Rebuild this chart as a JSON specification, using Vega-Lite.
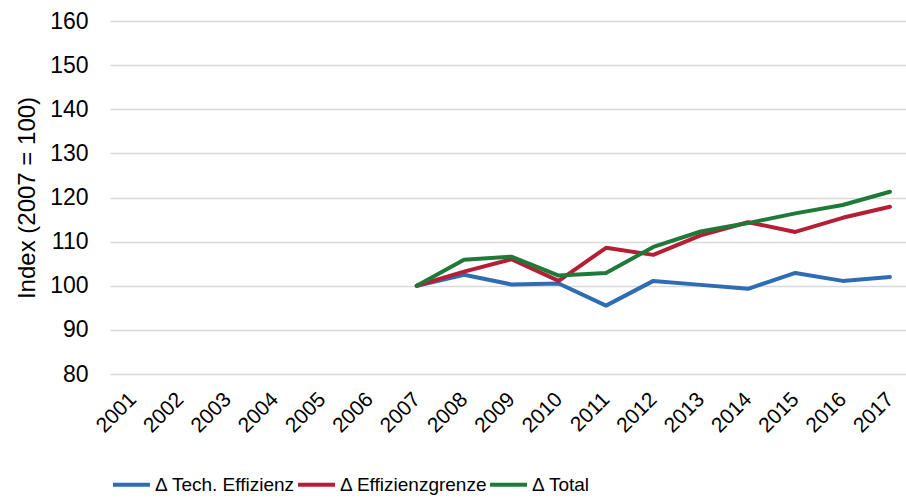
{
  "$schema": "https://vega.github.io/schema/vega-lite/v6.json",
  "width": 796,
  "height": 353,
  "autosize": {"type": "none"},
  "padding": {"left": 110, "top": 21, "right": 0, "bottom": 127},
  "background": "white",
  "config": {
    "view": {"stroke": null},
    "font": "Liberation Sans"
  },
  "data": {
    "values": [
      {"year": "2001", "series": "Δ Tech. Effizienz", "value": null},
      {"year": "2002", "series": "Δ Tech. Effizienz", "value": null},
      {"year": "2003", "series": "Δ Tech. Effizienz", "value": null},
      {"year": "2004", "series": "Δ Tech. Effizienz", "value": null},
      {"year": "2005", "series": "Δ Tech. Effizienz", "value": null},
      {"year": "2006", "series": "Δ Tech. Effizienz", "value": null},
      {"year": "2007", "series": "Δ Tech. Effizienz", "value": 100},
      {"year": "2008", "series": "Δ Tech. Effizienz", "value": 102.5},
      {"year": "2009", "series": "Δ Tech. Effizienz", "value": 100.3},
      {"year": "2010", "series": "Δ Tech. Effizienz", "value": 100.5},
      {"year": "2011", "series": "Δ Tech. Effizienz", "value": 95.5},
      {"year": "2012", "series": "Δ Tech. Effizienz", "value": 101.1},
      {"year": "2013", "series": "Δ Tech. Effizienz", "value": 100.2},
      {"year": "2014", "series": "Δ Tech. Effizienz", "value": 99.3},
      {"year": "2015", "series": "Δ Tech. Effizienz", "value": 102.9},
      {"year": "2016", "series": "Δ Tech. Effizienz", "value": 101.1},
      {"year": "2017", "series": "Δ Tech. Effizienz", "value": 102.0},
      {"year": "2007", "series": "Δ Effizienzgrenze", "value": 100},
      {"year": "2008", "series": "Δ Effizienzgrenze", "value": 103.2},
      {"year": "2009", "series": "Δ Effizienzgrenze", "value": 106.0},
      {"year": "2010", "series": "Δ Effizienzgrenze", "value": 101.1},
      {"year": "2011", "series": "Δ Effizienzgrenze", "value": 108.6},
      {"year": "2012", "series": "Δ Effizienzgrenze", "value": 107.0},
      {"year": "2013", "series": "Δ Effizienzgrenze", "value": 111.4},
      {"year": "2014", "series": "Δ Effizienzgrenze", "value": 114.4},
      {"year": "2015", "series": "Δ Effizienzgrenze", "value": 112.2},
      {"year": "2016", "series": "Δ Effizienzgrenze", "value": 115.4},
      {"year": "2017", "series": "Δ Effizienzgrenze", "value": 117.9},
      {"year": "2007", "series": "Δ Total", "value": 100},
      {"year": "2008", "series": "Δ Total", "value": 105.9},
      {"year": "2009", "series": "Δ Total", "value": 106.6},
      {"year": "2010", "series": "Δ Total", "value": 102.3},
      {"year": "2011", "series": "Δ Total", "value": 102.9},
      {"year": "2012", "series": "Δ Total", "value": 108.8},
      {"year": "2013", "series": "Δ Total", "value": 112.3},
      {"year": "2014", "series": "Δ Total", "value": 114.2},
      {"year": "2015", "series": "Δ Total", "value": 116.4},
      {"year": "2016", "series": "Δ Total", "value": 118.3},
      {"year": "2017", "series": "Δ Total", "value": 121.3}
    ]
  },
  "mark": {"type": "line", "strokeWidth": 4, "strokeJoin": "round", "strokeCap": "round"},
  "encoding": {
    "x": {
      "field": "year",
      "type": "ordinal",
      "sort": null,
      "scale": {"type": "point", "padding": 0.41, "align": 0.587},
      "axis": {
        "title": null,
        "labelAngle": -45,
        "labelAlign": "right",
        "labelBaseline": "middle",
        "labelFontSize": 21,
        "labelColor": "#000000",
        "labelPadding": 22,
        "ticks": false,
        "domain": false,
        "grid": false,
        "labelOverlap": false
      }
    },
    "y": {
      "field": "value",
      "type": "quantitative",
      "scale": {"domain": [80, 160], "nice": false, "zero": false},
      "axis": {
        "title": "Index (2007 = 100)",
        "titleFontSize": 24,
        "titleFontWeight": "normal",
        "titleColor": "#000000",
        "titlePadding": 10,
        "values": [80, 90, 100, 110, 120, 130, 140, 150, 160],
        "labelFontSize": 23,
        "labelColor": "#000000",
        "labelPadding": 22,
        "ticks": false,
        "domain": false,
        "gridColor": "#d9d9d9",
        "gridWidth": 1.5
      }
    },
    "color": {
      "field": "series",
      "type": "nominal",
      "sort": ["Δ Tech. Effizienz", "Δ Effizienzgrenze", "Δ Total"],
      "scale": {
        "domain": ["Δ Tech. Effizienz", "Δ Effizienzgrenze", "Δ Total"],
        "range": ["#2e6db4", "#b51f36", "#1f7a3a"]
      },
      "legend": {
        "title": null,
        "orient": "none",
        "direction": "horizontal",
        "legendX": 1,
        "legendY": 443,
        "symbolType": "stroke",
        "symbolStrokeWidth": 4,
        "symbolSize": 1369,
        "labelFontSize": 19,
        "labelColor": "#000000",
        "labelOffset": 3,
        "columnPadding": -7,
        "labelLimit": 300
      }
    }
  }
}
